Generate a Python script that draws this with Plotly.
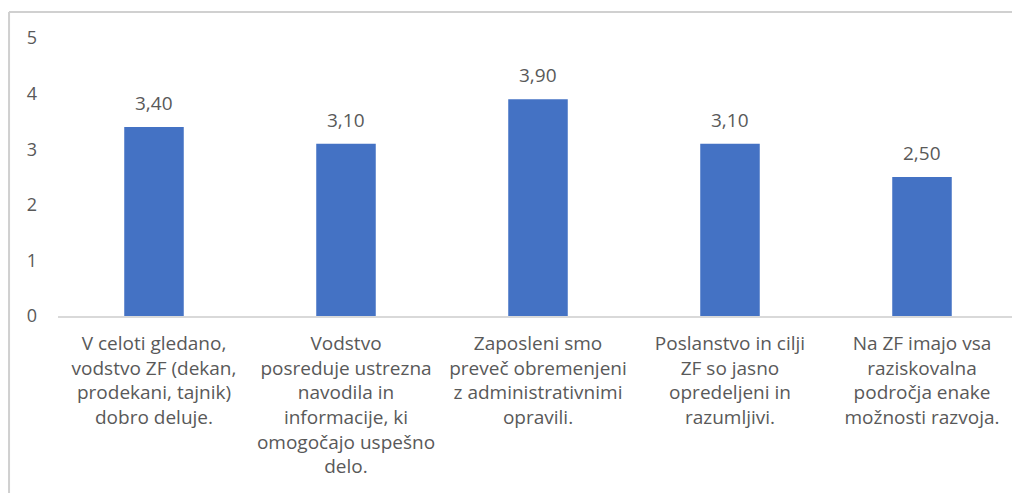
import plotly.graph_objects as go

# Trditve (kategorije) in povprečne ocene
trditve = [
    "V celoti gledano,<br>vodstvo ZF (dekan,<br>prodekani, tajnik)<br>dobro deluje.",
    "Vodstvo<br>posreduje ustrezna<br>navodila in<br>informacije, ki<br>omogočajo uspešno<br>delo.",
    "Zaposleni smo<br>preveč obremenjeni<br>z administrativnimi<br>opravili.",
    "Poslanstvo in cilji<br>ZF so jasno<br>opredeljeni in<br>razumljivi.",
    "Na ZF imajo vsa<br>raziskovalna<br>področja enake<br>možnosti razvoja.",
]
ocene = [3.40, 3.10, 3.90, 3.10, 2.50]
y_ticks = [0, 1, 2, 3, 4, 5]

siva = '#595959'

fig = go.Figure()
fig.add_trace(go.Bar(
    x=trditve,
    y=ocene,
    marker_color='#4472c4',
    marker_line_width=0,
    width=0.31,
    showlegend=False,
))

# oznake vrednosti nad stolpci
for t, v in zip(trditve, ocene):
    fig.add_annotation(
        x=t, y=v, text=f"{v:.2f}".replace('.', ','),
        showarrow=False, yanchor='bottom', yshift=9,
        font=dict(size=19, color=siva),
    )

fig.update_layout(
    width=1020,
    height=493,
    margin=dict(l=50, r=10, t=30, b=185),
    paper_bgcolor='white',
    plot_bgcolor='white',
    separators=',.',
    font=dict(family='Open Sans', color=siva),
    xaxis=dict(
        showline=True,
        linecolor='#d9d9d9',
        linewidth=2,
        showgrid=False,
        tickfont=dict(size=19, color=siva),
        ticklabelstandoff=9,
        tickangle=0,
    ),
    yaxis=dict(
        range=[0, 5],
        tickvals=y_ticks,
        showgrid=False,
        zeroline=False,
        showline=False,
        tickfont=dict(size=18, color=siva),
        ticklabelstandoff=20,
    ),
    shapes=[
        # okvir grafikona (levi in zgornji rob)
        dict(type='line', xref='paper', yref='paper',
             x0=-0.051, x1=1.02, y0=1.0935, y1=1.0935,
             line=dict(color='#d0d0d0', width=2)),
        dict(type='line', xref='paper', yref='paper',
             x0=-0.051, x1=-0.051, y0=1.0935, y1=-0.8,
             line=dict(color='#d0d0d0', width=2)),
    ],
)

fig.write_html("out.html")
